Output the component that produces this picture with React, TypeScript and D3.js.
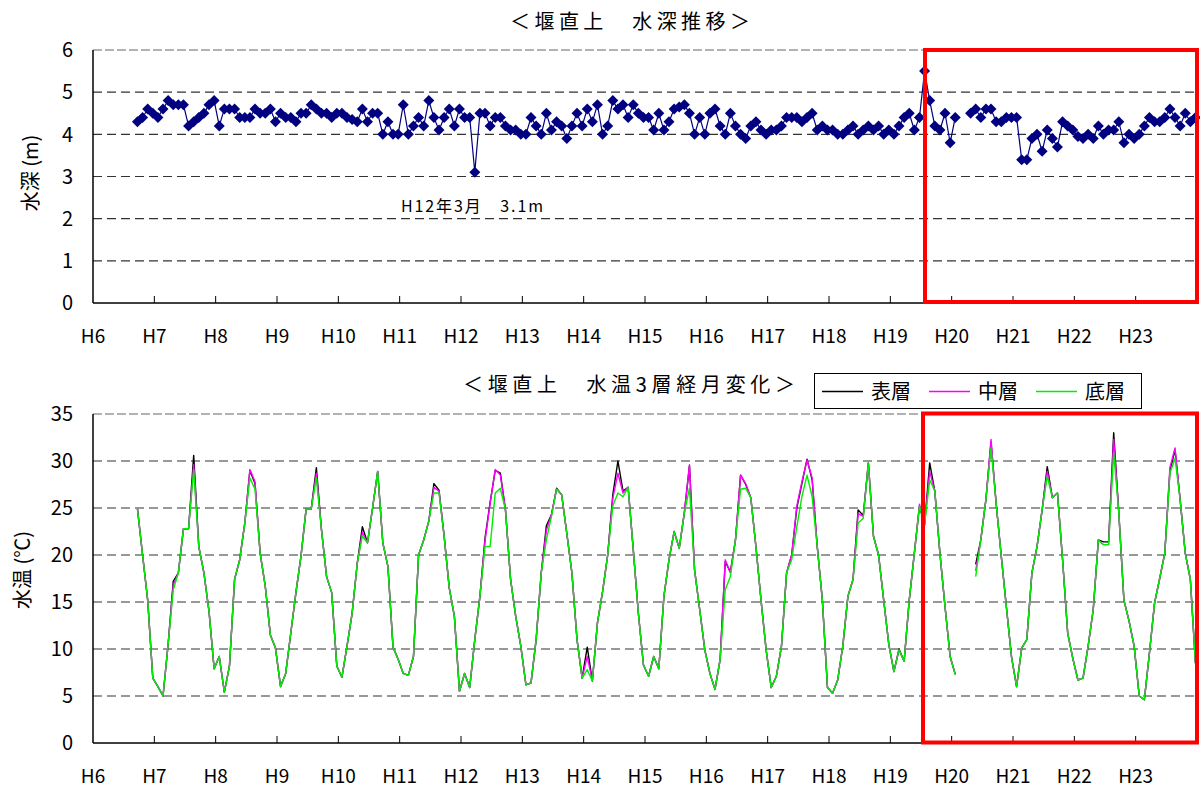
import React from 'react';
import * as d3 from 'd3';

// ---------- DATA ----------
const yearLabels = ['H6','H7','H8','H9','H10','H11','H12','H13','H14','H15','H16','H17','H18','H19','H20','H21','H22','H23'];

// Monthly water depth (m), index 0 = H6 Jan
const depth: (number | null)[] = [
  /* H6  */ null, null, null, null, null, null, null, null, 4.3, 4.4, 4.6, 4.5,
  /* H7  */ 4.4, 4.6, 4.8, 4.7, 4.7, 4.7, 4.2, 4.3, 4.4, 4.5, 4.7, 4.8,
  /* H8  */ 4.2, 4.6, 4.6, 4.6, 4.4, 4.4, 4.4, 4.6, 4.5, 4.5, 4.6, 4.3,
  /* H9  */ 4.5, 4.4, 4.4, 4.3, 4.5, 4.5, 4.7, 4.6, 4.5, 4.5, 4.4, 4.5,
  /* H10 */ 4.5, 4.4, 4.35, 4.3, 4.6, 4.3, 4.5, 4.5, 4.0, 4.3, 4.0, 4.0,
  /* H11 */ 4.7, 4.0, 4.2, 4.4, 4.2, 4.8, 4.4, 4.1, 4.4, 4.6, 4.2, 4.6,
  /* H12 */ 4.4, 4.4, 3.1, 4.5, 4.5, 4.2, 4.4, 4.4, 4.2, 4.1, 4.1, 4.0,
  /* H13 */ 4.0, 4.4, 4.2, 4.0, 4.5, 4.1, 4.3, 4.2, 3.9, 4.2, 4.5, 4.2,
  /* H14 */ 4.6, 4.3, 4.7, 4.0, 4.2, 4.8, 4.6, 4.7, 4.4, 4.7, 4.5, 4.4,
  /* H15 */ 4.4, 4.1, 4.5, 4.1, 4.3, 4.6, 4.65, 4.7, 4.5, 4.0, 4.4, 4.0,
  /* H16 */ 4.5, 4.6, 4.2, 4.0, 4.5, 4.2, 4.0, 3.9, 4.2, 4.3, 4.1, 4.0,
  /* H17 */ 4.1, 4.1, 4.2, 4.4, 4.4, 4.4, 4.3, 4.4, 4.5, 4.1, 4.2, 4.1,
  /* H18 */ 4.1, 4.0, 4.0, 4.1, 4.2, 4.0, 4.1, 4.2, 4.1, 4.2, 4.0, 4.1,
  /* H19 */ 4.0, 4.2, 4.4, 4.5, 4.1, 4.4, 5.5, 4.8, 4.2, 4.1, 4.5, 3.8,
  /* H20 */ 4.4, null, null, 4.5, 4.6, 4.4, 4.6, 4.6, 4.3, 4.3, 4.4, 4.4,
  /* H21 */ 4.4, 3.4, 3.4, 3.9, 4.0, 3.6, 4.1, 3.9, 3.7, 4.3, 4.2, 4.1,
  /* H22 */ 3.95, 3.9, 4.0, 3.9, 4.2, 4.0, 4.1, 4.1, 4.3, 3.8, 4.0, 3.9,
  /* H23 */ 4.0, 4.2, 4.4, 4.3, 4.3, 4.4, 4.6, 4.4, 4.2, 4.5, 4.3, 4.4,
];

// Monthly water temperature (°C) – surface layer 表層
const tempSurface: (number | null)[] = [
  /* H6  */ null, null, null, null, null, null, null, null, 24.9, 20.0, 15.2, 6.9,
  /* H7  */ 6.0, 5.0, 10.5, 17.2, 18.1, 22.8, 22.8, 30.6, 20.9, 18.1, 14.0, 7.9,
  /* H8  */ 9.2, 5.4, 8.2, 17.4, 19.5, 23.4, 29.0, 27.6, 20.2, 16.7, 11.5, 10.1,
  /* H9  */ 6.0, 7.4, 11.7, 16.0, 19.9, 24.9, 24.9, 29.3, 22.7, 17.7, 16.0, 8.2,
  /* H10 */ 7.0, 10.3, 13.8, 19.1, 23.0, 21.3, 25.0, 28.9, 21.3, 18.8, 10.2, 8.9,
  /* H11 */ 7.4, 7.2, 9.2, 20.0, 21.6, 23.6, 27.6, 26.9, 22.0, 16.5, 13.5, 5.5,
  /* H12 */ 7.4, 5.9, 11.0, 15.6, 21.8, 25.6, 29.0, 28.7, 24.8, 17.4, 13.5, 10.3,
  /* H13 */ 6.2, 6.4, 11.0, 18.1, 23.1, 24.3, 27.1, 26.4, 22.3, 18.1, 11.0, 6.9,
  /* H14 */ 10.2, 6.6, 12.8, 16.1, 20.0, 26.4, 30.0, 26.8, 27.2, 20.6, 13.8, 8.3,
  /* H15 */ 7.1, 9.2, 7.9, 15.6, 19.5, 22.5, 20.7, 24.5, 29.5, 18.4, 14.2, 9.9,
  /* H16 */ 7.4, 5.7, 8.9, 19.3, 18.2, 21.6, 28.5, 27.5, 26.1, 20.9, 15.2, 9.9,
  /* H17 */ 5.9, 7.1, 10.3, 18.1, 20.0, 25.0, 27.6, 30.2, 28.0, 20.9, 15.2, 5.9,
  /* H18 */ 5.3, 6.7, 10.3, 15.6, 17.4, 24.8, 24.2, 29.8, 22.0, 20.0, 15.2, 10.5,
  /* H19 */ 7.6, 10.0, 8.7, 15.2, 20.2, 25.2, 23.2, 29.8, 26.8, 20.2, 14.5, 9.2,
  /* H20 */ 7.3, null, null, null, 19.0, 21.6, 25.9, 32.0, 25.5, 19.9, 14.5, 9.2,
  /* H21 */ 6.0, 10.1, 11.0, 18.1, 20.9, 24.8, 29.4, 26.1, 26.6, 19.5, 11.7, 9.0,
  /* H22 */ 6.7, 6.9, 10.3, 14.2, 21.6, 21.4, 21.4, 33.0, 24.5, 15.2, 13.0, 10.3,
  /* H23 */ 5.0, 4.6, 9.6, 14.9, 17.5, 20.2, 28.9, 31.2, 25.9, 20.2, 17.4, 8.5,
];

// middle layer 中層
const tempMiddle: (number | null)[] = [
  /* H6  */ null, null, null, null, null, null, null, null, 24.9, 20.0, 15.2, 6.9,
  /* H7  */ 6.0, 5.0, 10.5, 16.8, 18.1, 22.8, 22.8, 29.6, 20.9, 18.1, 14.0, 7.9,
  /* H8  */ 9.2, 5.4, 8.2, 17.4, 19.5, 23.4, 29.1, 27.8, 20.2, 16.7, 11.5, 10.1,
  /* H9  */ 6.0, 7.4, 11.7, 16.0, 19.9, 24.9, 24.9, 28.7, 22.7, 17.7, 16.0, 8.2,
  /* H10 */ 7.0, 10.3, 13.8, 19.1, 22.4, 21.3, 25.0, 28.9, 21.3, 18.8, 10.2, 8.9,
  /* H11 */ 7.4, 7.2, 9.2, 20.0, 21.6, 23.6, 27.2, 26.8, 22.0, 16.5, 13.5, 5.5,
  /* H12 */ 7.4, 5.9, 11.0, 15.6, 21.5, 25.5, 29.1, 28.5, 24.8, 17.4, 13.5, 10.3,
  /* H13 */ 6.2, 6.4, 11.0, 18.1, 22.6, 24.3, 27.0, 26.4, 22.3, 18.1, 11.0, 6.9,
  /* H14 */ 9.2, 6.6, 12.8, 16.1, 20.0, 26.0, 28.7, 26.6, 27.2, 20.6, 13.8, 8.3,
  /* H15 */ 7.1, 9.2, 7.9, 15.6, 19.5, 22.5, 20.7, 24.5, 29.6, 18.4, 14.2, 9.9,
  /* H16 */ 7.4, 5.7, 8.9, 19.5, 18.1, 21.6, 28.5, 27.6, 26.1, 20.9, 15.2, 9.9,
  /* H17 */ 5.9, 7.1, 10.3, 18.1, 20.0, 25.2, 27.8, 30.1, 28.2, 20.9, 15.2, 5.9,
  /* H18 */ 5.3, 6.7, 10.3, 15.6, 17.4, 24.4, 24.1, 29.8, 22.0, 20.0, 15.2, 10.5,
  /* H19 */ 7.6, 9.9, 8.7, 15.2, 20.2, 25.4, 23.4, 28.9, 26.8, 20.2, 14.5, 9.2,
  /* H20 */ 7.3, null, null, null, 18.3, 21.6, 25.9, 32.3, 25.5, 19.9, 14.5, 9.2,
  /* H21 */ 6.0, 10.1, 11.0, 18.1, 20.9, 24.8, 28.9, 26.1, 26.6, 19.5, 11.7, 9.0,
  /* H22 */ 6.7, 6.9, 10.3, 14.2, 21.6, 21.1, 21.1, 32.3, 24.5, 15.2, 13.0, 10.3,
  /* H23 */ 5.0, 4.6, 9.6, 14.9, 17.5, 20.2, 29.3, 31.4, 25.9, 20.2, 17.4, 8.5,
];

// bottom layer 底層
const tempBottom: (number | null)[] = [
  /* H6  */ null, null, null, null, null, null, null, null, 24.9, 20.0, 15.2, 6.9,
  /* H7  */ 6.0, 5.0, 10.5, 16.3, 18.1, 22.8, 22.8, 29.1, 20.9, 18.1, 14.0, 7.9,
  /* H8  */ 9.2, 5.4, 8.2, 17.4, 19.5, 23.4, 28.2, 27.0, 20.2, 16.7, 11.5, 10.1,
  /* H9  */ 6.0, 7.4, 11.7, 16.0, 19.9, 24.9, 24.9, 28.2, 22.7, 17.7, 16.0, 8.2,
  /* H10 */ 7.0, 10.3, 13.8, 19.1, 22.0, 21.3, 25.0, 28.9, 21.3, 18.8, 10.2, 8.9,
  /* H11 */ 7.4, 7.2, 9.2, 20.0, 21.6, 23.6, 26.6, 26.6, 22.0, 16.5, 13.5, 5.5,
  /* H12 */ 7.4, 5.9, 11.0, 15.6, 20.9, 20.9, 26.6, 27.1, 24.8, 17.4, 13.5, 10.3,
  /* H13 */ 6.2, 6.4, 11.0, 18.1, 21.6, 24.1, 27.0, 26.4, 22.3, 18.1, 11.0, 6.9,
  /* H14 */ 7.8, 6.6, 12.8, 16.1, 20.0, 25.2, 26.6, 26.2, 27.2, 20.6, 13.8, 8.3,
  /* H15 */ 7.1, 9.2, 7.9, 15.6, 19.5, 22.5, 20.7, 24.5, 27.1, 18.4, 14.2, 9.9,
  /* H16 */ 7.4, 5.7, 8.9, 16.3, 17.7, 21.6, 27.0, 27.1, 26.1, 20.9, 15.2, 9.9,
  /* H17 */ 5.9, 7.1, 10.3, 18.1, 19.5, 23.0, 26.2, 28.5, 26.2, 20.9, 15.2, 5.9,
  /* H18 */ 5.3, 6.7, 10.3, 15.6, 17.4, 23.4, 23.9, 29.8, 22.0, 20.0, 15.2, 10.5,
  /* H19 */ 7.6, 9.9, 8.7, 15.2, 20.2, 25.2, 23.2, 28.0, 26.8, 20.2, 14.5, 9.2,
  /* H20 */ 7.3, null, null, null, 17.7, 21.6, 25.9, 31.4, 25.5, 19.9, 14.5, 9.2,
  /* H21 */ 6.0, 10.1, 11.0, 18.1, 20.9, 24.8, 28.4, 26.1, 26.6, 19.5, 11.7, 9.0,
  /* H22 */ 6.7, 6.9, 10.3, 14.2, 21.6, 21.1, 21.1, 30.9, 24.5, 15.2, 13.0, 10.3,
  /* H23 */ 5.0, 4.6, 9.6, 14.9, 17.5, 20.2, 28.7, 30.3, 25.9, 20.2, 17.4, 8.5,
];

const depthTicks = [0, 1, 2, 3, 4, 5, 6];
const tempTicks = [0, 5, 10, 15, 20, 25, 30, 35];

const seriesNames = ['表層', '中層', '底層'];
const seriesColors = ['#000000', '#ff00ff', '#00ee00'];

const depthTitle = '＜堰直上　水深推移＞';
const tempTitle = '＜堰直上　水温3層経月変化＞';
const depthAxisTitle = '水深 (m)';
const tempAxisTitle = '水温 (℃)';
const annotation = 'H12年3月　3.1m';

// ---------- LAYOUT ----------
const FONT = "'Noto Sans CJK JP', 'Noto Sans', sans-serif";
const MONTH_POS = 0.7; // position of a monthly sample inside its month slot

const x = d3.scaleLinear().domain([0, yearLabels.length * 12]).range([93, 1197]);
const yD = d3.scaleLinear().domain([0, 6]).range([303, 50]);
const yT = d3.scaleLinear().domain([0, 35]).range([743, 414]);

function linePath(vals: (number | null)[], y: d3.ScaleLinear<number, number>) {
  const gen = d3
    .line<number | null>()
    .defined((d) => d != null)
    .x((_, i) => x(i + MONTH_POS))
    .y((d) => y(d as number));
  return gen(vals) || '';
}

function Axes({ y, ticks, top, bottom }: { y: d3.ScaleLinear<number, number>; ticks: number[]; top: number; bottom: number }) {
  const x0 = x.range()[0];
  const x1 = x.range()[1];
  const maxT = ticks[ticks.length - 1];
  return (
    <g>
      {ticks.slice(1, -1).map((t) => (
        <line key={t} x1={x0} x2={x1} y1={y(t)} y2={y(t)} stroke="#333" strokeWidth={1.2} strokeDasharray="9,5" />
      ))}
      <line x1={x0} x2={x1} y1={y(maxT)} y2={y(maxT)} stroke="#999" strokeWidth={1.5} strokeDasharray="9,3" />
      {ticks.map((t) => (
        <text key={'l' + t} x={73} y={y(t)} dy="0.36em" textAnchor="end" fontSize={20} fontFamily={FONT} fill="#000">
          {t}
        </text>
      ))}
      {yearLabels.map((lab, k) => (
        <g key={lab}>
          {k > 0 && <line x1={x(k * 12)} x2={x(k * 12)} y1={bottom} y2={bottom - 7} stroke="#000" strokeWidth={1} />}
          <text x={x(k * 12)} y={bottom + 40} textAnchor="middle" fontSize={19} fontFamily={FONT} fill="#000">
            {lab}
          </text>
        </g>
      ))}
      <line x1={x0} x2={x0} y1={top} y2={bottom} stroke="#000" strokeWidth={1.5} />
      <line x1={x0} x2={x1} y1={bottom} y2={bottom} stroke="#000" strokeWidth={1.5} />
    </g>
  );
}

export default function App() {
  const diamond = 'M0,-5.5L5.5,0L0,5.5L-5.5,0Z';
  const tempSeries = [tempSurface, tempMiddle, tempBottom];
  return (
    <svg width={1200} height={792} style={{ position: 'absolute', left: 0, top: 0, background: '#fff' }}>
      <rect x={0} y={0} width={1200} height={792} fill="#fff" />

      {/* ---- Top chart: depth ---- */}
      <text x={630} y={29} textAnchor="middle" fontSize={20} fontFamily={FONT} textLength={240} lengthAdjust="spacing">
        {depthTitle}
      </text>
      <Axes y={yD} ticks={depthTicks} top={yD(6)} bottom={yD(0)} />
      <text transform={`translate(38,${173}) rotate(-90)`} textAnchor="middle" fontSize={20} fontFamily={FONT}>
        {depthAxisTitle}
      </text>
      <path d={linePath(depth, yD)} fill="none" stroke="#000080" strokeWidth={1.2} />
      {depth.map((v, i) =>
        v == null ? null : (
          <path key={i} d={diamond} transform={`translate(${x(i + MONTH_POS)},${yD(v)})`} fill="#000080" />
        )
      )}
      <text x={401} y={212} fontSize={16} fontFamily={FONT} textLength={142} lengthAdjust="spacing">
        {annotation}
      </text>
      <rect x={925} y={50} width={272} height={252} fill="none" stroke="#ff0000" strokeWidth={4} />

      {/* ---- Bottom chart: temperature ---- */}
      <text x={629} y={392} textAnchor="middle" fontSize={20} fontFamily={FONT} textLength={332} lengthAdjust="spacing">
        {tempTitle}
      </text>
      <Axes y={yT} ticks={tempTicks} top={yT(35)} bottom={yT(0)} />
      <text transform={`translate(30,${570}) rotate(-90)`} textAnchor="middle" fontSize={20} fontFamily={FONT}>
        {tempAxisTitle}
      </text>
      {tempSeries.map((s, k) => (
        <path key={k} d={linePath(s, yT)} fill="none" stroke={seriesColors[k]} strokeWidth={1.4} strokeLinejoin="round" />
      ))}
      <rect x={923} y={413.5} width={274} height={329} fill="none" stroke="#ff0000" strokeWidth={4} />

      {/* Legend */}
      <rect x={814.5} y={373.5} width={327} height={35} fill="#fff" stroke="#000" strokeWidth={1} />
      {seriesNames.map((n, k) => (
        <g key={n} transform={`translate(${822 + k * 107},0)`}>
          <line x1={0} x2={41} y1={391.5} y2={391.5} stroke={seriesColors[k]} strokeWidth={1.5} />
          <text x={49} y={399} fontSize={20} fontFamily={FONT}>
            {n}
          </text>
        </g>
      ))}
    </svg>
  );
}
